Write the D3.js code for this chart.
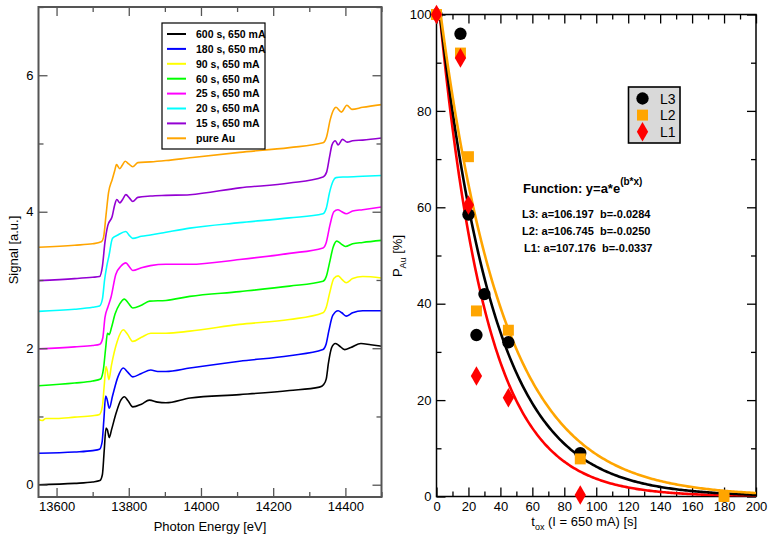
<!DOCTYPE html>
<html>
<head>
<meta charset="utf-8">
<script src="https://cdn.jsdelivr.net/npm/d3@7"></script>
<style>
  body { margin: 0; background: #fff; }
  svg { display: block; font-family: "Liberation Sans", Arial, sans-serif; }
</style>
</head>
<body>
<svg width="770" height="539"></svg>
<script>
// ---- left panel: spectra, [energy eV, signal] ----
const s600 = [[13550,0.00],[13650,0.02],[13700,0.04],[13720,0.06],[13727,0.15],[13732,0.50],[13737,0.83],[13741,0.80],[13746,0.69],[13752,0.80],[13765,1.05],[13778,1.24],[13788,1.29],[13798,1.23],[13811,1.14],[13835,1.18],[13857,1.24],[13880,1.21],[13903,1.20],[13970,1.27],[14107,1.32],[14245,1.38],[14328,1.43],[14340,1.47],[14347,1.55],[14353,1.78],[14362,2.01],[14372,2.07],[14382,2.04],[14398,1.98],[14415,2.01],[14443,2.07],[14470,2.05],[14500,2.03]];
const s180 = [[13550,0.46],[13650,0.48],[13700,0.50],[13719,0.52],[13726,0.62],[13731,0.95],[13736,1.30],[13740,1.25],[13746,1.12],[13755,1.30],[13770,1.58],[13785,1.71],[13797,1.65],[13811,1.58],[13835,1.63],[13861,1.68],[13880,1.66],[13903,1.66],[13969,1.71],[14107,1.81],[14245,1.89],[14338,1.98],[14346,2.05],[14354,2.25],[14365,2.48],[14380,2.55],[14390,2.52],[14402,2.47],[14420,2.52],[14448,2.55],[14500,2.55]];
const s90 = [[13550,0.96],[13560,0.94],[13570,0.97],[13600,0.97],[13650,0.99],[13700,1.01],[13719,1.03],[13727,1.15],[13732,1.45],[13737,1.73],[13740,1.68],[13745,1.54],[13752,1.75],[13768,2.10],[13785,2.27],[13797,2.20],[13811,2.10],[13835,2.16],[13861,2.22],[13903,2.22],[13969,2.25],[14107,2.35],[14245,2.42],[14338,2.52],[14347,2.60],[14356,2.80],[14368,3.02],[14380,3.06],[14392,3.00],[14402,2.96],[14420,3.02],[14448,3.05],[14500,3.03]];
const s60 = [[13550,1.45],[13650,1.49],[13700,1.52],[13722,1.55],[13730,1.70],[13736,2.00],[13741,2.22],[13746,2.20],[13752,2.30],[13762,2.50],[13775,2.65],[13788,2.72],[13799,2.66],[13811,2.59],[13835,2.63],[13858,2.69],[13903,2.70],[13969,2.76],[14107,2.83],[14245,2.91],[14338,2.98],[14347,3.05],[14356,3.25],[14366,3.48],[14376,3.57],[14388,3.53],[14400,3.49],[14420,3.53],[14448,3.55],[14500,3.58]];
const s25 = [[13550,1.99],[13650,2.02],[13700,2.04],[13720,2.06],[13728,2.15],[13734,2.45],[13742,2.60],[13751,2.75],[13764,3.08],[13778,3.20],[13792,3.25],[13802,3.19],[13811,3.14],[13835,3.18],[13860,3.21],[13903,3.23],[13969,3.23],[14107,3.30],[14245,3.39],[14338,3.47],[14347,3.55],[14357,3.80],[14368,4.00],[14379,4.03],[14390,4.00],[14402,3.97],[14420,4.01],[14448,4.03],[14500,4.07]];
const s20 = [[13550,2.54],[13650,2.57],[13700,2.60],[13719,2.62],[13727,2.72],[13733,3.00],[13739,3.20],[13745,3.35],[13755,3.61],[13770,3.66],[13792,3.71],[13802,3.65],[13811,3.61],[13835,3.64],[13860,3.66],[13903,3.70],[13969,3.76],[14107,3.84],[14245,3.91],[14338,3.97],[14347,4.05],[14356,4.28],[14366,4.45],[14374,4.50],[14400,4.51],[14448,4.52],[14500,4.53]];
const s15 = [[13550,2.99],[13650,3.02],[13700,3.04],[13719,3.05],[13727,3.20],[13734,3.55],[13742,3.80],[13754,3.93],[13761,4.10],[13767,4.18],[13775,4.13],[13783,4.18],[13792,4.25],[13802,4.20],[13811,4.15],[13825,4.21],[13860,4.23],[13903,4.24],[13969,4.25],[14107,4.35],[14245,4.42],[14338,4.51],[14348,4.58],[14356,4.80],[14363,4.98],[14372,5.04],[14380,4.98],[14392,5.06],[14405,5.02],[14420,5.04],[14448,5.05],[14500,5.08]];
const sAu = [[13550,3.48],[13650,3.51],[13700,3.53],[13724,3.56],[13730,3.62],[13737,3.95],[13744,4.28],[13754,4.47],[13761,4.60],[13766,4.69],[13775,4.63],[13782,4.68],[13790,4.74],[13800,4.70],[13811,4.66],[13825,4.72],[13860,4.73],[13903,4.75],[13969,4.79],[14107,4.87],[14245,4.94],[14338,5.01],[14348,5.10],[14358,5.35],[14368,5.50],[14374,5.53],[14389,5.46],[14404,5.56],[14418,5.50],[14448,5.53],[14500,5.57]];

const specLabels = ["600 s, 650 mA", "180 s, 650 mA", "90 s, 650 mA", "60 s, 650 mA", "25 s, 650 mA", "20 s, 650 mA", "15 s, 650 mA", "pure Au"];
const specColors = ["#000000", "#0000ff", "#ffff00", "#00ff00", "#ff00ff", "#00ffff", "#9400d3", "#ffa500"];
const specData = [s600, s180, s90, s60, s25, s20, s15, sAu];

const energyTicks = [13600, 13800, 14000, 14200, 14400];
const energyMinor = [13700, 13900, 14100, 14300, 14500];
const signalTicks = [0, 2, 4, 6];
const signalMinor = [1, 3, 5, 7];

// ---- right panel: Au fraction vs oxidation time ----
const seriesNames = ["L3", "L2", "L1"];
const seriesColors = ["#000000", "#ffa500", "#ff0000"];
const tL3 = [0, 15, 20, 25, 30, 45, 90];
const pL3 = [100, 96, 58.5, 33.5, 42, 32, 9];
const tL2 = [0, 15, 20, 25, 45, 90, 180];
const pL2 = [100, 92, 70.5, 38.5, 34.5, 7.8, 0];
const tL1 = [0, 15, 20, 25, 45, 90];
const pL1 = [100, 91, 60.5, 25, 20.5, 0.3];
// fit parameters printed on the chart
const fitA = [106.197, 106.745, 107.176];
const fitB = [-0.0284, -0.0250, -0.0337];
const fitLabels = ["L3: a=106.197  b=-0.0284", "L2: a=106.745  b=-0.0250", "L1: a=107.176  b=-0.0337"];

const tTicks = d3.range(0, 201, 20);
const tMinor = d3.range(10, 200, 20);
const pTicks = d3.range(0, 101, 20);
const pMinor = d3.range(10, 100, 20);

const svg = d3.select("svg");

// ================= left panel =================
const L = { left: 38.5, right: 381.5, top: 7, bottom: 497 };
const xE = d3.scaleLinear().domain([13550, 14500]).range([L.left, L.right]);
const yS = d3.scaleLinear().domain([-0.18, 7.0]).range([L.bottom, L.top]);

const left = svg.append("g");
left.append("defs").append("clipPath").attr("id", "clipL")
    .append("rect").attr("x", L.left).attr("y", L.top)
    .attr("width", L.right - L.left).attr("height", L.bottom - L.top);

const line = d3.line().x(d => xE(d[0])).y(d => yS(d[1])).curve(d3.curveMonotoneX);
left.append("g").attr("clip-path", "url(#clipL)")
    .selectAll("path").data(specData).enter().append("path")
    .attr("d", d => line(d))
    .attr("fill", "none")
    .attr("stroke", (d, i) => specColors[i])
    .attr("stroke-width", 1.6);

function ticksOn(g, axisFn, scale, values, size, pos, fmt) {
    g.append("g").attr("transform", pos)
        .call(axisFn(scale).tickValues(values).tickSize(size).tickPadding(5).tickFormat(fmt))
        .call(s => s.select(".domain").remove());
}
const noLab = () => "";
const frameCol = "#555";
function styleAxes(g, col, fs) {
    g.selectAll(".tick line").attr("stroke", col).attr("stroke-width", 1.3);
    g.selectAll(".tick text").attr("fill", "#000").style("font-size", fs + "px")
        .style("font-family", "'Liberation Sans', Arial, sans-serif");
}

const axL = left.append("g");
ticksOn(axL, d3.axisBottom, xE, energyTicks, -9, `translate(0,${L.bottom})`, d3.format("d"));
ticksOn(axL, d3.axisBottom, xE, energyMinor, -5, `translate(0,${L.bottom})`, noLab);
ticksOn(axL, d3.axisTop, xE, energyTicks, -9, `translate(0,${L.top})`, noLab);
ticksOn(axL, d3.axisTop, xE, energyMinor, -5, `translate(0,${L.top})`, noLab);
ticksOn(axL, d3.axisLeft, yS, signalTicks, -9, `translate(${L.left},0)`, d3.format("d"));
ticksOn(axL, d3.axisLeft, yS, signalMinor, -5, `translate(${L.left},0)`, noLab);
ticksOn(axL, d3.axisRight, yS, signalTicks, -9, `translate(${L.right},0)`, noLab);
ticksOn(axL, d3.axisRight, yS, signalMinor, -5, `translate(${L.right},0)`, noLab);
styleAxes(axL, frameCol, 13);
axL.selectAll(".tick text").filter(function () { return this.textContent === ""; }).remove();

left.append("rect").attr("x", L.left).attr("y", L.top)
    .attr("width", L.right - L.left).attr("height", L.bottom - L.top)
    .attr("fill", "none").attr("stroke", frameCol).attr("stroke-width", 2);

left.append("text").attr("x", (L.left + L.right) / 2).attr("y", 531)
    .attr("text-anchor", "middle").style("font-size", "13px").text("Photon Energy [eV]");
left.append("text").attr("transform", "translate(18,250) rotate(-90)")
    .attr("text-anchor", "middle").style("font-size", "13px").text("Signal [a.u.]");

// legend
const lg = left.append("g");
lg.append("rect").attr("x", 162).attr("y", 23).attr("width", 103).attr("height", 126)
    .attr("fill", "#fff").attr("stroke", "#000").attr("stroke-width", 1.2);
specLabels.forEach((lab, i) => {
    const yy = 34 + i * 14.9;
    lg.append("line").attr("x1", 167).attr("x2", 186).attr("y1", yy).attr("y2", yy)
        .attr("stroke", specColors[i]).attr("stroke-width", 2);
    lg.append("text").attr("x", 196).attr("y", yy + 3.8)
        .style("font-size", "10.5px").style("font-weight", "bold").text(lab);
});

// ================= right panel =================
const R = { left: 436.5, right: 756, top: 14.5, bottom: 496.5 };
const xT = d3.scaleLinear().domain([0, 200]).range([R.left, R.right]);
const yP = d3.scaleLinear().domain([0, 100]).range([R.bottom, R.top]);

const right = svg.append("g");
right.append("defs").append("clipPath").attr("id", "clipR")
    .append("rect").attr("x", R.left).attr("y", R.top)
    .attr("width", R.right - R.left).attr("height", R.bottom - R.top);

const axR = right.append("g");
ticksOn(axR, d3.axisBottom, xT, tTicks, -9, `translate(0,${R.bottom})`, d3.format("d"));
ticksOn(axR, d3.axisBottom, xT, tMinor, -5, `translate(0,${R.bottom})`, noLab);
ticksOn(axR, d3.axisTop, xT, tTicks, -9, `translate(0,${R.top})`, noLab);
ticksOn(axR, d3.axisTop, xT, tMinor, -5, `translate(0,${R.top})`, noLab);
ticksOn(axR, d3.axisLeft, yP, pTicks, -9, `translate(${R.left},0)`, d3.format("d"));
ticksOn(axR, d3.axisLeft, yP, pMinor, -5, `translate(${R.left},0)`, noLab);
ticksOn(axR, d3.axisRight, yP, pTicks, -9, `translate(${R.right},0)`, noLab);
ticksOn(axR, d3.axisRight, yP, pMinor, -5, `translate(${R.right},0)`, noLab);
styleAxes(axR, "#000", 13);
axR.selectAll(".tick text").filter(function () { return this.textContent === ""; }).remove();

right.append("rect").attr("x", R.left).attr("y", R.top)
    .attr("width", R.right - R.left).attr("height", R.bottom - R.top)
    .attr("fill", "none").attr("stroke", "#000").attr("stroke-width", 1.5);

// fitted curves y = a*exp(b*x)
const tGrid = d3.range(0, 200.5, 1);
const fitLine = d3.line().x(d => xT(d[0])).y(d => yP(d[1]));
const fitOrder = [2, 0, 1]; // L1 red, L3 black, L2 orange
right.append("g").attr("clip-path", "url(#clipR)")
    .selectAll("path").data(fitOrder).enter().append("path")
    .attr("d", i => fitLine(tGrid.map(t => [t, fitA[i] * Math.exp(fitB[i] * t)])))
    .attr("fill", "none").attr("stroke", i => seriesColors[i]).attr("stroke-width", 2.6);

// markers
const symCircle = d3.symbol().type(d3.symbolCircle).size(120);
const symSquare = d3.symbol().type(d3.symbolSquare).size(120);
const symDiamond = d3.symbol().type(d3.symbolDiamond).size(110);
const pts = [
    { t: tL3, p: pL3, sym: symCircle, col: seriesColors[0] },
    { t: tL2, p: pL2, sym: symSquare, col: seriesColors[1] },
    { t: tL1, p: pL1, sym: symDiamond, col: seriesColors[2] }
];
pts.forEach(s => {
    right.append("g").selectAll("path").data(s.t).enter().append("path")
        .attr("transform", (t, j) => `translate(${xT(t)},${yP(s.p[j])})`)
        .attr("d", s.sym()).attr("fill", s.col);
});

right.append("text").attr("x", (R.left + R.right) / 2 - 12).attr("y", 526)
    .attr("text-anchor", "middle").style("font-size", "13px")
    .call(t => {
        t.append("tspan").text("t");
        t.append("tspan").attr("dy", 4).style("font-size", "9px").text("ox");
        t.append("tspan").attr("dy", -4).text(" (I = 650 mA) [s]");
    });
right.append("text").attr("transform", "translate(402,256) rotate(-90)")
    .attr("text-anchor", "middle").style("font-size", "13px")
    .call(t => {
        t.append("tspan").text("P");
        t.append("tspan").attr("dy", 4).style("font-size", "9px").text("Au");
        t.append("tspan").attr("dy", -4).text(" [%]");
    });

// legend
const rg = right.append("g");
rg.append("rect").attr("x", 628.5).attr("y", 87).attr("width", 51.5).attr("height", 56)
    .attr("fill", "#d9d9d9").attr("stroke", "#000").attr("stroke-width", 1.6);
const legSyms = [symCircle, symSquare, symDiamond];
seriesNames.forEach((n, i) => {
    const yy = 98.5 + i * 16.6;
    rg.append("path").attr("transform", `translate(642.5,${yy})`)
        .attr("d", legSyms[i]()).attr("fill", seriesColors[i]);
    rg.append("text").attr("x", 660).attr("y", yy + 5).style("font-size", "14px").text(n);
});

// function annotation
const fn = right.append("text").attr("x", 523).attr("y", 193)
    .style("font-size", "13px").style("font-weight", "bold");
fn.append("tspan").text("Function: y=a*e");
fn.append("tspan").attr("dy", -8).style("font-size", "10px").text("(b*x)");
fitLabels.forEach((s, i) => {
    right.append("text").attr("x", i === 2 ? 524 : 522).attr("y", 218 + i * 17)
        .style("font-size", "11px").style("font-weight", "bold")
        .style("white-space", "pre").text(s);
});
</script>
</body>
</html>
